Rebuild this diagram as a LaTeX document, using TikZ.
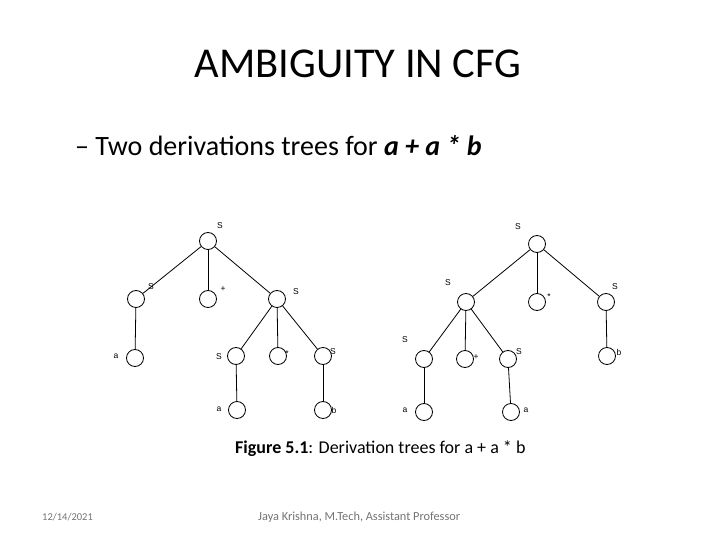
\documentclass[tikz,border=0pt]{standalone}
\usepackage{fontspec}
\setmainfont{Carlito}
\newfontfamily\labfont{Liberation Sans}
\begin{document}
\begin{tikzpicture}[x=1pt,y=-1pt,
  nd/.style={draw,circle,minimum size=17pt,inner sep=0pt,line width=0.8pt},
  lab/.style={font=\labfont\fontsize{8.5}{9}\selectfont,inner sep=0pt},
  edge/.style={line width=0.8pt},
  foot/.style={inner sep=0pt,text=black!55}]
\useasboundingbox (0,0) rectangle (720,540);
% title
\node[inner sep=0pt,anchor=base,font=\fontsize{42.5}{46}\selectfont] (title) at (358,78) {AMBIGUITY IN CFG};
\node[inner sep=0pt,anchor=base west,font=\fontsize{28}{32}\selectfont] (sub) at (75,156) {– Two derivations trees for \textbf{\textit{a + a * b}}};
% tree 1
\node[nd] (r1) at (208,241) {};
\node[nd] (l1) at (136,299) {};
\node[nd] (p1) at (208,299) {};
\node[nd] (s1) at (277,299) {};
\node[nd] (a1) at (135,358) {};
\node[nd] (s1l) at (236,356) {};
\node[nd] (m1) at (278,356) {};
\node[nd] (s1r) at (323,356) {};
\node[nd] (a2) at (237,410) {};
\node[nd] (b1) at (323,410) {};
\draw[edge] (r1) -- (l1); \draw[edge] (r1) -- (p1); \draw[edge] (r1) -- (s1);
\draw[edge] (l1) -- (a1);
\draw[edge] (s1) -- (s1l); \draw[edge] (s1) -- (m1); \draw[edge] (s1) -- (s1r);
\draw[edge] (s1l) -- (a2); \draw[edge] (s1r) -- (b1);
\node[lab] (tr1) at (220,226) {S};
\node[lab] (tl1) at (151,287) {S};
\node[lab] (tp1) at (223,289) {+};
\node[lab] (ts1) at (296,292) {S};
\node[lab] (ta1) at (116,356) {a};
\node[lab] (ts1l) at (219,357) {S};
\node[lab] (tm1) at (287,354) {*};
\node[lab] (ts1r) at (333,352) {S};
\node[lab] (ta2) at (219,409) {a};
\node[lab] (tb1) at (334,410) {b};
% tree 2
\node[nd] (r2) at (537,244) {};
\node[nd] (l2) at (466,302) {};
\node[nd] (m2) at (537,302) {};
\node[nd] (s2) at (606,302) {};
\node[nd] (l2l) at (424,359) {};
\node[nd] (p2) at (465,359) {};
\node[nd] (l2r) at (508,359) {};
\node[nd] (b2) at (607,356) {};
\node[nd] (a3) at (424,412) {};
\node[nd] (a4) at (511,412) {};
\draw[edge] (r2) -- (l2); \draw[edge] (r2) -- (m2); \draw[edge] (r2) -- (s2);
\draw[edge] (l2) -- (l2l); \draw[edge] (l2) -- (p2); \draw[edge] (l2) -- (l2r);
\draw[edge] (s2) -- (b2);
\draw[edge] (l2l) -- (a3); \draw[edge] (l2r) -- (a4);
\node[lab] (tr2) at (518,227) {S};
\node[lab] (tl2) at (448,283) {S};
\node[lab] (tm2) at (549,297) {*};
\node[lab] (ts2) at (615,287) {S};
\node[lab] (tl2l) at (405,340) {S};
\node[lab] (tp2) at (476,357) {+};
\node[lab] (tl2r) at (519,352) {S};
\node[lab] (tb2) at (619,352) {b};
\node[lab] (ta3) at (405,410) {a};
\node[lab] (ta4) at (526,410) {a};
% caption
\node[inner sep=0pt,anchor=base west,font=\fontsize{18}{20}\selectfont] (cap) at (235,453.5) {\textbf{Figure 5.1}: Derivation trees for a + a * b};
% footer
\node[foot,anchor=base west,font=\fontsize{10.5}{12}\selectfont] (date) at (42,520) {12/14/2021};
\node[foot,anchor=base west,font=\fontsize{12.3}{14}\selectfont] (auth) at (258,520) {Jaya Krishna, M.Tech, Assistant Professor};
\end{tikzpicture}
\end{document}
